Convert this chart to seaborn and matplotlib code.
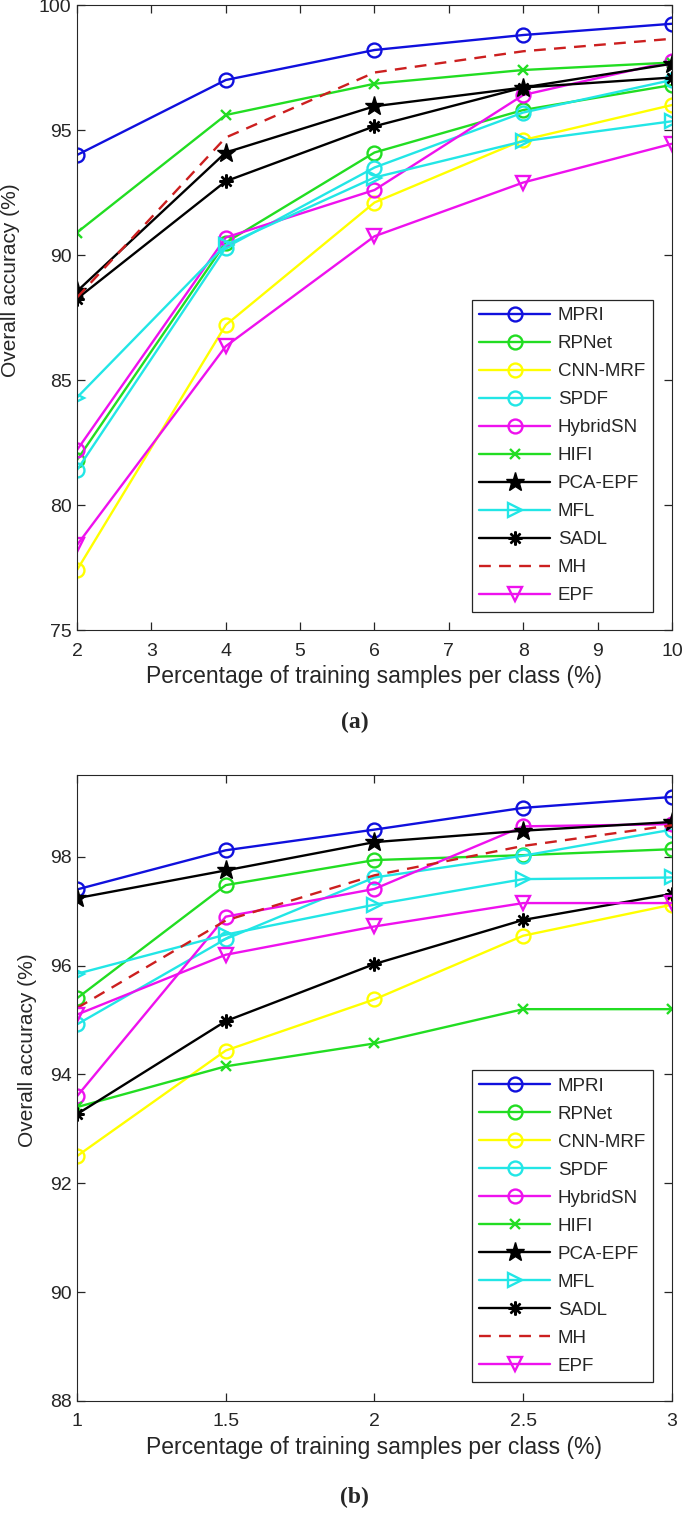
import numpy as np
import pandas as pd
import matplotlib
matplotlib.use("Agg")
import matplotlib.pyplot as plt
import seaborn as sns

# Method names (legend order)
methods = ["MPRI", "RPNet", "CNN-MRF", "SPDF", "HybridSN", "HIFI",
           "PCA-EPF", "MFL", "SADL", "MH", "EPF"]

# (a) percentages of training samples
x_a = [2, 4, 6, 8, 10]
mpri_a = [94.0, 97.0, 98.2, 98.8, 99.25]
rpnet_a = [81.8, 90.5, 94.1, 95.8, 96.8]
cnnmrf_a = [77.4, 87.2, 92.1, 94.6, 96.0]
spdf_a = [81.4, 90.3, 93.5, 95.7, 97.0]
hybridsn_a = [82.2, 90.7, 92.6, 96.4, 97.75]
hifi_a = [90.9, 95.6, 96.85, 97.4, 97.7]
pcaepf_a = [88.55, 94.1, 95.95, 96.7, 97.65]
mfl_a = [84.3, 90.4, 93.1, 94.55, 95.35]
sadl_a = [88.25, 92.95, 95.15, 96.7, 97.1]
mh_a = [88.3, 94.7, 97.3, 98.15, 98.65]
epf_a = [78.4, 86.35, 90.75, 92.9, 94.45]

# (b) percentages of training samples
x_b = [1, 1.5, 2, 2.5, 3]
mpri_b = [97.4, 98.12, 98.5, 98.9, 99.1]
rpnet_b = [95.4, 97.48, 97.94, 98.03, 98.14]
cnnmrf_b = [92.5, 94.44, 95.38, 96.55, 97.12]
spdf_b = [94.92, 96.49, 97.62, 98.02, 98.5]
hybridsn_b = [93.6, 96.9, 97.41, 98.56, 98.6]
hifi_b = [93.4, 94.15, 94.57, 95.2, 95.2]
pcaepf_b = [97.24, 97.75, 98.27, 98.48, 98.64]
mfl_b = [95.85, 96.57, 97.12, 97.59, 97.62]
sadl_b = [93.27, 94.98, 96.03, 96.84, 97.32]
mh_b = [95.22, 96.83, 97.66, 98.2, 98.58]
epf_b = [95.1, 96.2, 96.72, 97.15, 97.15]

data_a = [mpri_a, rpnet_a, cnnmrf_a, spdf_a, hybridsn_a, hifi_a,
          pcaepf_a, mfl_a, sadl_a, mh_a, epf_a]
data_b = [mpri_b, rpnet_b, cnnmrf_b, spdf_b, hybridsn_b, hifi_b,
          pcaepf_b, mfl_b, sadl_b, mh_b, epf_b]

# style per method: color, marker, filled, markersize, linestyle
styles = {
    "MPRI": ("#1010dd", "o", False, 10, "-"),
    "RPNet": ("#22dd22", "o", False, 10, "-"),
    "CNN-MRF": ("#ffff00", "o", False, 10, "-"),
    "SPDF": ("#22e6e6", "o", False, 10, "-"),
    "HybridSN": ("#ee11ee", "o", False, 10, "-"),
    "HIFI": ("#22dd22", "x", False, 7, "-"),
    "PCA-EPF": ("#000000", "*", True, 14, "-"),
    "MFL": ("#22e6e6", ">", False, 10, "-"),
    "SADL": ("#000000", (8, 2, 0), False, 10, "-"),
    "MH": ("#cc1f1f", None, False, 0, (0, (5, 3.5))),
    "EPF": ("#ee11ee", "v", False, 10, "-"),
}

sns.set_theme(style="ticks")
plt.rcParams["font.family"] = ["Liberation Sans", "DejaVu Sans"]
plt.rcParams["axes.linewidth"] = 0.8
plt.rcParams["xtick.direction"] = "in"
plt.rcParams["ytick.direction"] = "in"

fig = plt.figure(figsize=(6.85, 15.17), dpi=100)
ax_a = fig.add_axes([0.1124, 0.5847, 0.8686, 0.4120])
ax_b = fig.add_axes([0.1124, 0.0765, 0.8686, 0.4125])


def draw(ax, xs, data):
    for name, ys in zip(methods, data):
        color, marker, filled, ms, ls = styles[name]
        df = pd.DataFrame({"x": xs, "y": ys})
        sns.lineplot(data=df, x="x", y="y", ax=ax, color=color,
                     marker=marker, markersize=ms, linestyle=ls,
                     linewidth=1.7, markeredgecolor=color,
                     markerfacecolor=color if filled else "none",
                     markeredgewidth=1.7 if name != "PCA-EPF" else 1.0,
                     label=name, errorbar=None)
    for sp in ax.spines.values():
        sp.set_visible(True)
        sp.set_color("#262626")
    ax.tick_params(axis="x", which="both", top=True, length=6, width=0.9,
                   color="#262626", labelsize=14, labelcolor="#262626", pad=9)
    ax.tick_params(axis="y", which="both", right=True, length=6, width=0.9,
                   color="#262626", labelsize=14, labelcolor="#262626", pad=4)
    ax.set_xlabel("Percentage of training samples per class (%)",
                  fontsize=16.5, color="#262626", labelpad=4)
    ax.set_ylabel("Overall accuracy (%)", fontsize=15, color="#262626")
    leg = ax.legend(loc="lower right", fontsize=13.5, frameon=True,
                    fancybox=False, edgecolor="#262626", framealpha=1,
                    handlelength=3.8, labelspacing=0.58, borderpad=0.4,
                    handletextpad=0.4, borderaxespad=0)
    leg.get_frame().set_linewidth(0.9)
    return leg


leg_a = draw(ax_a, x_a, data_a)
ax_a.set_xlim(2, 10)
ax_a.set_ylim(75, 100)
ax_a.set_xticks(range(2, 11))
ax_a.set_yticks(range(75, 101, 5))
leg_a.set_bbox_to_anchor((0.9676, 0.029), transform=ax_a.transAxes)
ax_a.yaxis.set_label_coords(-0.096, 0.56)

leg_b = draw(ax_b, x_b, data_b)
ax_b.set_xlim(1, 3)
ax_b.set_ylim(88, 99.5)
ax_b.set_xticks(x_b)
ax_b.set_xticklabels(["1", "1.5", "2", "2.5", "3"])
ax_b.set_yticks(range(88, 99, 2))
leg_b.set_bbox_to_anchor((0.9676, 0.030), transform=ax_b.transAxes)
ax_b.yaxis.set_label_coords(-0.067, 0.56)

fig.text(0.518, 1 - 722 / 1517, "(a)", ha="center", va="center",
         fontsize=17, fontweight="bold", family=["Liberation Serif", "DejaVu Serif"])
fig.text(0.518, 1 - 1497 / 1517, "(b)", ha="center", va="center",
         fontsize=17, fontweight="bold", family=["Liberation Serif", "DejaVu Serif"])

fig.savefig("out.png", dpi=100)
